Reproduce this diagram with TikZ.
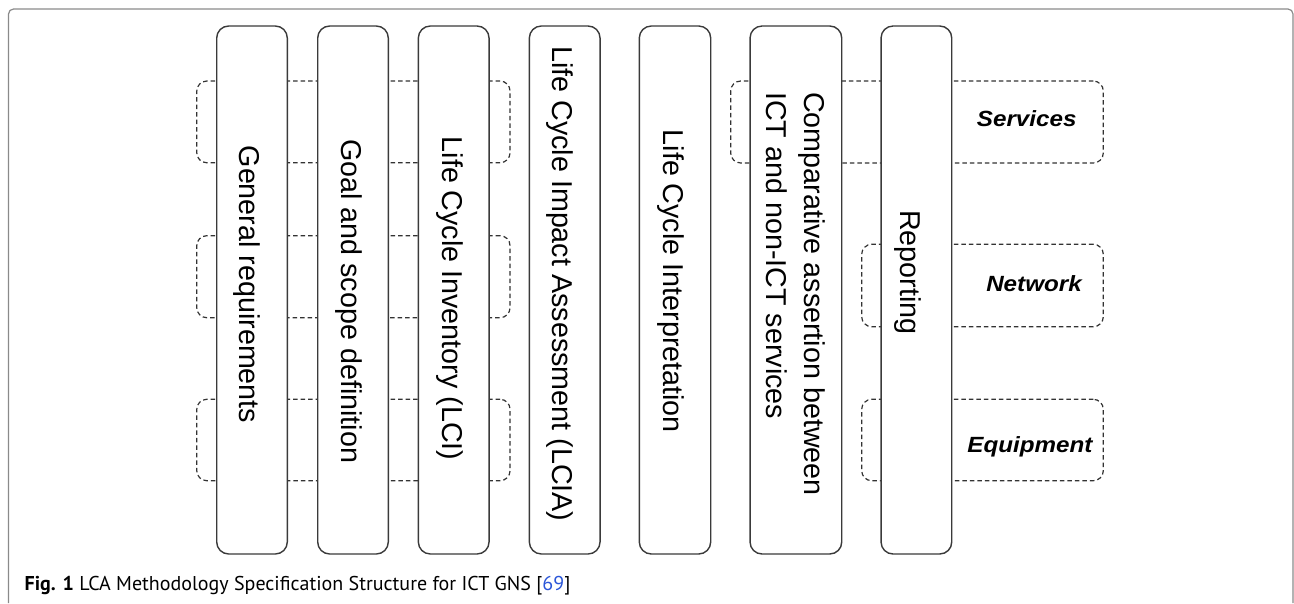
\documentclass[tikz,border=0pt]{standalone}
\usepackage{fontspec}
\setmainfont{Liberation Sans}
\newfontfamily\capfont{PT Sans}
\definecolor{boxline}{HTML}{3A3A3A}
\definecolor{dashline}{HTML}{333333}
\definecolor{framecol}{HTML}{8A8A8A}
\definecolor{refblue}{HTML}{2B56D8}
\begin{document}
\begin{tikzpicture}[x=1pt,y=-1pt,
  colbox/.style={draw=boxline, fill=white, line width=1.4pt, rounded corners=12pt,
    inner sep=0pt, minimum height=528pt},
  grp/.style={draw=dashline, line width=1.2pt, dash pattern=on 4.5pt off 3pt,
    rounded corners=10pt, inner sep=0pt},
  vtext/.style={rotate=-90, inner sep=0pt, font=\fontsize{28.7}{38}\selectfont},
  rowlabel/.style={inner sep=0pt, anchor=base, xscale=1.1,
    font=\fontsize{22}{26}\selectfont\bfseries\itshape}]
\useasboundingbox (0,0) rectangle (1294,603);
% outer frame
\draw[framecol, line width=1.2pt, rounded corners=5pt] (8.5,603) -- (8.5,9) -- (1293,9) -- (1293,603);
% dashed groups
\node[grp, minimum width=313.3pt, minimum height=81.7pt] (gS1) at (353.4,121.9) {};
\node[grp, minimum width=313.3pt, minimum height=82pt] (gN1) at (353.4,276.7) {};
\node[grp, minimum width=313.3pt, minimum height=81.4pt] (gE1) at (353.4,440) {};
\node[grp, minimum width=372.6pt, minimum height=82pt] (gS2) at (917,122) {};
\node[grp, minimum width=241.6pt, minimum height=82.4pt] (gN2) at (982.5,285.5) {};
\node[grp, minimum width=241.6pt, minimum height=81.4pt] (gE2) at (982.5,440) {};
% columns
\node[colbox, minimum width=70.6pt] (b1) at (252,290) {};
\node[colbox, minimum width=70.6pt] (b2) at (353,290) {};
\node[colbox, minimum width=70.7pt] (b3) at (453.7,290) {};
\node[colbox, minimum width=70.7pt] (b4) at (564.7,290) {};
\node[colbox, minimum width=71.4pt] (b5) at (675,290) {};
\node[colbox, minimum width=91.7pt] (b6) at (795.9,290) {};
\node[colbox, minimum width=70.7pt] (b7) at (916.4,290) {};
% column texts
\node[vtext, anchor=base west] (t1) at (239,145.5) {General requirements};
\node[vtext, anchor=base west] (t2) at (341.5,139) {Goal and scope definition};
\node[vtext, anchor=base west] (t3) at (442.5,136.5) {Life Cycle Inventory (LCI)};
\node[vtext, anchor=base west] (t4) at (552.5,46) {Life Cycle Impact Assessment (LCIA)};
\node[vtext, anchor=base west] (t5) at (663.5,129.5) {Life Cycle Interpretation};
\node[vtext, anchor=north west, align=left] (t6) at (825,92) {Comparative assertion between\\ICT and non-ICT services};
\node[vtext, anchor=base west] (t7) at (900.5,210) {Reporting};
% row labels
\node[rowlabel] (lS) at (1026.7,126.7) {Services};
\node[rowlabel] (lN) at (1034,291) {Network};
\node[rowlabel] (lE) at (1030,452) {Equipment};
% caption
\node[anchor=base west, inner sep=0pt, font=\capfont\fontsize{20}{24}\selectfont] (cap) at (24.5,590)
  {\textbf{Fig. 1} LCA Methodology Specification Structure for ICT GNS [\textcolor{refblue}{69}]};
\end{tikzpicture}
\end{document}
